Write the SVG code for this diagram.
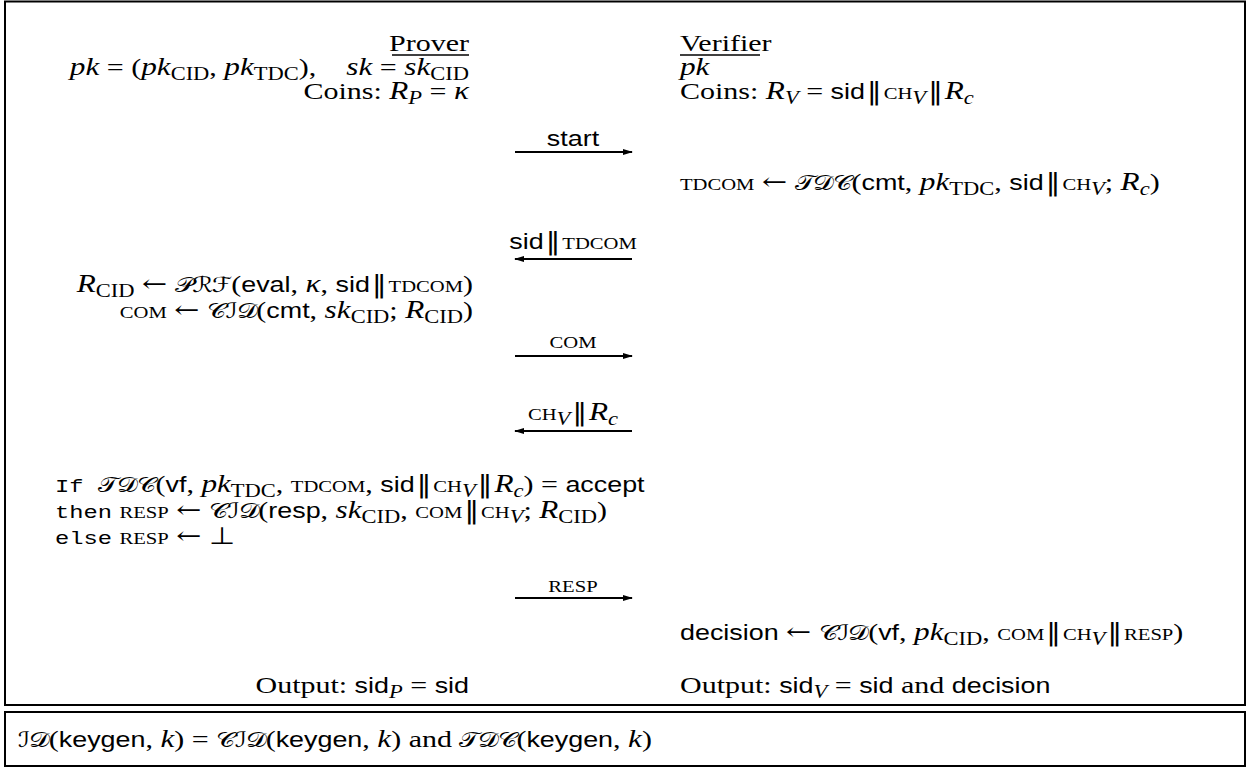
<svg xmlns="http://www.w3.org/2000/svg" width="1248" height="768" viewBox="0 0 1248 768">
<style>
.r{font-family:"Liberation Serif",serif;font-size:24px;fill:#000}
.i{font-style:italic;font-size:25px}
.s{font-family:"Liberation Sans",sans-serif;font-size:21.5px;font-style:normal}
.c{font-family:"Liberation Serif",serif;font-size:16.5px;font-style:normal}
.t{font-family:"Liberation Mono",monospace;font-size:19px}
.sb{font-size:18px}
.b{font-family:"DejaVu Serif",serif;font-style:normal;font-size:24px}
.k{font-family:"DejaVu Serif","DejaVu Sans","Noto Sans",serif;font-size:21px;letter-spacing:-1px}
.frame{fill:none;stroke:#000;stroke-width:2}
.msg{stroke:#000;stroke-width:1.8;fill:none}
.ul{stroke:#000;stroke-width:1.3}
</style>
<defs>
<marker id="ah" markerUnits="userSpaceOnUse" markerWidth="10" markerHeight="7" refX="9" refY="3.5" orient="auto">
<path d="M0,0.5 L10,3.5 L0,6.5 z" fill="#000"/>
</marker>
</defs>
<g id="frames">
<rect class="frame" x="5" y="1.5" width="1240" height="703.5"/>
<rect class="frame" x="5" y="712" width="1240" height="54"/>
</g>
<g id="underlines">
<line class="ul" x1="392" y1="55" x2="469" y2="55"/>
<line class="ul" x1="680" y1="55" x2="760" y2="55"/>
</g>
<g id="connectors">
<line class="msg" x1="515" y1="152" x2="632" y2="152" marker-end="url(#ah)"/>
<line class="msg" x1="632" y1="259" x2="515" y2="259" marker-end="url(#ah)"/>
<line class="msg" x1="515" y1="356" x2="632" y2="356" marker-end="url(#ah)"/>
<line class="msg" x1="632" y1="431" x2="515" y2="431" marker-end="url(#ah)"/>
<line class="msg" x1="515" y1="598" x2="632" y2="598" marker-end="url(#ah)"/>
</g>
<g transform="scale(1.25,1)">
<g id="prover">
<text class="r" x="375.2" y="51" text-anchor="end">Prover</text>
<text class="r" x="375.2" y="75" text-anchor="end" xml:space="preserve"><tspan class="i">pk</tspan> = (<tspan class="i">pk</tspan><tspan class="sb" dy="5">CID</tspan><tspan dy="-5">, </tspan><tspan class="i">pk</tspan><tspan class="sb" dy="5">TDC</tspan><tspan dy="-5">),    </tspan><tspan class="i">sk</tspan> = <tspan class="i">sk</tspan><tspan class="sb" dy="5">CID</tspan></text>
<text class="r" x="375.2" y="99" text-anchor="end" xml:space="preserve">Coins: <tspan class="i">R</tspan><tspan class="sb i" dy="5">P</tspan><tspan dy="-5"> = </tspan><tspan class="i">κ</tspan></text>
<text class="r" x="378.4" y="292" text-anchor="end" xml:space="preserve"><tspan class="i">R</tspan><tspan class="sb" dy="5">CID</tspan><tspan dy="-5"> </tspan><tspan class="b">←</tspan> <tspan class="k">𝒫ℛℱ</tspan>(<tspan class="s">eval</tspan>, <tspan class="i">κ</tspan>, <tspan class="s">sid</tspan><tspan class="b" dx="1.5">‖</tspan><tspan class="c" dx="1.5">TDCOM</tspan>)</text>
<text class="r" x="378.4" y="318" text-anchor="end" xml:space="preserve"><tspan class="c">COM</tspan> <tspan class="b">←</tspan> <tspan class="k">𝒞ℐ𝒟</tspan>(<tspan class="s">cmt</tspan>, <tspan class="i">sk</tspan><tspan class="sb" dy="5">CID</tspan><tspan dy="-5">; </tspan><tspan class="i">R</tspan><tspan class="sb" dy="5">CID</tspan><tspan dy="-5">)</tspan></text>
<text class="r" x="44" y="492" xml:space="preserve"><tspan class="t">If</tspan>  <tspan class="k">𝒯𝒟𝒞</tspan>(<tspan class="s">vf</tspan>, <tspan class="i">pk</tspan><tspan class="sb" dy="5">TDC</tspan><tspan dy="-5">, </tspan><tspan class="c">TDCOM</tspan>, <tspan class="s">sid</tspan><tspan class="b" dx="1.5">‖</tspan><tspan class="c" dx="1.5">CH</tspan><tspan class="sb i" dy="5">V</tspan><tspan class="b" dy="-5" dx="1.5">‖</tspan><tspan class="i" dx="1.5">R</tspan><tspan class="sb i" dy="5">c</tspan><tspan dy="-5">) = </tspan><tspan class="s">accept</tspan></text>
<text class="r" x="44" y="518" xml:space="preserve"><tspan class="t">then</tspan> <tspan class="c">RESP</tspan> <tspan class="b">←</tspan> <tspan class="k">𝒞ℐ𝒟</tspan>(<tspan class="s">resp</tspan>, <tspan class="i">sk</tspan><tspan class="sb" dy="5">CID</tspan><tspan dy="-5">, </tspan><tspan class="c">COM</tspan><tspan class="b" dx="1.5">‖</tspan><tspan class="c" dx="1.5">CH</tspan><tspan class="sb i" dy="5">V</tspan><tspan dy="-5">; </tspan><tspan class="i">R</tspan><tspan class="sb" dy="5">CID</tspan><tspan dy="-5">)</tspan></text>
<text class="r" x="44" y="544" xml:space="preserve"><tspan class="t">else</tspan> <tspan class="c">RESP</tspan> <tspan class="b">←</tspan> ⊥</text>
<text class="r" x="375.2" y="693" text-anchor="end" xml:space="preserve">Output: <tspan class="s">sid</tspan><tspan class="sb i" dy="5">P</tspan><tspan dy="-5"> = </tspan><tspan class="s">sid</tspan></text>
</g>
<g id="verifier">
<text class="r" x="544" y="51">Verifier</text>
<text class="r" x="544" y="75"><tspan class="i">pk</tspan></text>
<text class="r" x="544" y="99" xml:space="preserve">Coins: <tspan class="i">R</tspan><tspan class="sb i" dy="5">V</tspan><tspan dy="-5"> = </tspan><tspan class="s">sid</tspan><tspan class="b" dx="1.5">‖</tspan><tspan class="c" dx="1.5">CH</tspan><tspan class="sb i" dy="5">V</tspan><tspan class="b" dy="-5" dx="1.5">‖</tspan><tspan class="i" dx="1.5">R</tspan><tspan class="sb i" dy="5">c</tspan></text>
<text class="r" x="544" y="190" xml:space="preserve"><tspan class="c">TDCOM</tspan> <tspan class="b">←</tspan> <tspan class="k">𝒯𝒟𝒞</tspan>(<tspan class="s">cmt</tspan>, <tspan class="i">pk</tspan><tspan class="sb" dy="5">TDC</tspan><tspan dy="-5">, </tspan><tspan class="s">sid</tspan><tspan class="b" dx="1.5">‖</tspan><tspan class="c" dx="1.5">CH</tspan><tspan class="sb i" dy="5">V</tspan><tspan dy="-5">; </tspan><tspan class="i">R</tspan><tspan class="sb i" dy="5">c</tspan><tspan dy="-5">)</tspan></text>
<text class="r" x="544" y="640" xml:space="preserve"><tspan class="s">decision</tspan> <tspan class="b">←</tspan> <tspan class="k">𝒞ℐ𝒟</tspan>(<tspan class="s">vf</tspan>, <tspan class="i">pk</tspan><tspan class="sb" dy="5">CID</tspan><tspan dy="-5">, </tspan><tspan class="c">COM</tspan><tspan class="b" dx="1.5">‖</tspan><tspan class="c" dx="1.5">CH</tspan><tspan class="sb i" dy="5">V</tspan><tspan class="b" dy="-5" dx="1.5">‖</tspan><tspan class="c" dx="1.5">RESP</tspan>)</text>
<text class="r" x="544" y="693" xml:space="preserve">Output: <tspan class="s">sid</tspan><tspan class="sb i" dy="5">V</tspan><tspan dy="-5"> = </tspan><tspan class="s">sid</tspan> and <tspan class="s">decision</tspan></text>
</g>
<g id="labels">
<text class="s" x="458.4" y="146" text-anchor="middle">start</text>
<text class="r" x="458.4" y="249" text-anchor="middle"><tspan class="s">sid</tspan><tspan class="b" dx="1.5">‖</tspan><tspan class="c" dx="1.5">TDCOM</tspan></text>
<text class="c" x="458.4" y="348" text-anchor="middle">COM</text>
<text class="r" x="458.4" y="420" text-anchor="middle"><tspan class="c">CH</tspan><tspan class="sb i" dy="5">V</tspan><tspan class="b" dy="-5" dx="1.5">‖</tspan><tspan class="i" dx="1.5">R</tspan><tspan class="sb i" dy="5">c</tspan></text>
<text class="c" x="458.4" y="592" text-anchor="middle">RESP</text>
</g>
<g id="definition">
<text class="r" x="14.4" y="747" xml:space="preserve"><tspan class="k">ℐ𝒟</tspan>(<tspan class="s">keygen</tspan>, <tspan class="i">k</tspan>) = <tspan class="k">𝒞ℐ𝒟</tspan>(<tspan class="s">keygen</tspan>, <tspan class="i">k</tspan>) and <tspan class="k">𝒯𝒟𝒞</tspan>(<tspan class="s">keygen</tspan>, <tspan class="i">k</tspan>)</text>
</g>
</g>
</svg>
